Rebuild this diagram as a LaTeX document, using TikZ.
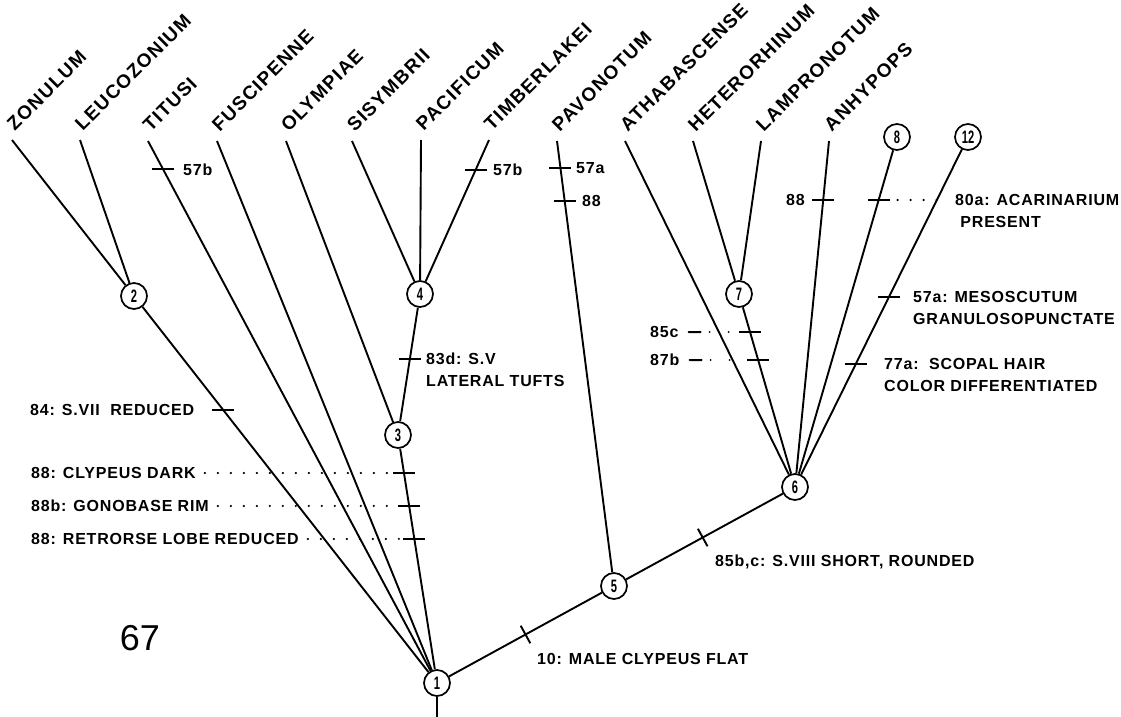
\documentclass[tikz,border=0pt]{standalone}
\usepackage{fontspec}
\newfontfamily\lab{Liberation Sans}[LetterSpace=5]
\newfontfamily\leaff{Liberation Sans}[LetterSpace=7]
\newfontfamily\plainf{Liberation Sans}
\usetikzlibrary{calc}
\tikzset{
  br/.style={line width=1.9pt},
  cn/.style={circle, draw, line width=1.7pt, minimum size=26pt, inner sep=0pt, fill=white,
    font=\plainf\bfseries\fontsize{18}{18}\selectfont},
  tx/.style={font=\lab\bfseries\fontsize{16}{22}\selectfont, inner sep=0pt, align=left},
  leaf/.style={font=\leaff\bfseries\fontsize{19}{19}\selectfont, inner sep=0pt, rotate=45, anchor=south west},
  tk/.style={line width=1.9pt},
  dots/.style={line width=2.4pt, line cap=round, dash pattern=on 0pt off 13pt},
  dashdots/.style={line width=2pt, line cap=round, dash pattern=on 12pt off 9pt on 0pt off 19pt on 0pt off 60pt},
}
\newcommand\htick[1]{\draw[tk] ($(#1)+(-11,0)$) -- ($(#1)+(11,0)$);}
\newcommand\cnum[1]{\scalebox{0.62}[1]{#1}}
\begin{document}
\begin{tikzpicture}[x=1pt,y=-1pt]
\useasboundingbox (0,0) rectangle (1121,717);
% internal nodes
\node[cn] (n1) at (437,683) {\cnum{1}};
\node[cn] (n2) at (134,296) {\cnum{2}};
\node[cn] (n3) at (398,435) {\cnum{3}};
\node[cn] (n4) at (420,294) {\cnum{4}};
\node[cn] (n5) at (614,586) {\cnum{5}};
\node[cn] (n6) at (795,487) {\cnum{6}};
\node[cn] (n7) at (739,294) {\cnum{7}};
\node[cn] (n8) at (897,137) {\cnum{8}};
\node[cn] (n12) at (968,137) {\cnum{12}};
\coordinate (root) at (437,717);
% leaf tops
\coordinate (zo) at (12,140);
\coordinate (le) at (80,140);
\coordinate (ti) at (148,141);
\coordinate (fu) at (217,141);
\coordinate (ol) at (286,141);
\coordinate (si) at (352,141);
\coordinate (pa) at (421,140);
\coordinate (tb) at (489,140);
\coordinate (pv) at (557,141);
\coordinate (at) at (625,141);
\coordinate (he) at (693,141);
\coordinate (la) at (761,141);
\coordinate (an) at (829,141);
% leaf labels
\node[leaf] (lzo) at ($(zo)+(3,-8)$) {ZONULUM};
\node[leaf] (lle) at ($(le)+(3,-8)$) {LEUCOZONIUM};
\node[leaf] (lti) at ($(ti)+(3,-8)$) {TITUSI};
\node[leaf] (lfu) at ($(fu)+(3,-8)$) {FUSCIPENNE};
\node[leaf] (lol) at ($(ol)+(3,-8)$) {OLYMPIAE};
\node[leaf] (lsi) at ($(si)+(3,-8)$) {SISYMBRII};
\node[leaf] (lpa) at ($(pa)+(3,-8)$) {PACIFICUM};
\node[leaf] (ltb) at ($(tb)+(3,-8)$) {TIMBERLAKEI};
\node[leaf] (lpv) at ($(pv)+(3,-8)$) {PAVONOTUM};
\node[leaf] (lat) at ($(at)+(3,-8)$) {ATHABASCENSE};
\node[leaf] (lhe) at ($(he)+(3,-8)$) {HETERORHINUM};
\node[leaf] (lla) at ($(la)+(3,-8)$) {LAMPRONOTUM};
\node[leaf] (lan) at ($(an)+(3,-8)$) {ANHYPOPS};
% branches
\draw[br] (zo) -- (n2);
\draw[br] (le) -- (n2);
\draw[br] (n2) -- (n1);
\draw[br] (ti) -- (n1);
\draw[br] (fu) -- (n1);
\draw[br] (ol) -- (n3);
\draw[br] (si) -- (n4);
\draw[br] (pa) -- (n4);
\draw[br] (tb) -- (n4);
\draw[br] (n4) -- (n3);
\draw[br] (n3) -- (n1);
\draw[br] (pv) -- (n5);
\draw[br] (n1) -- (n5);
\draw[br] (n5) -- (n6);
\draw[br] (at) -- (n6);
\draw[br] (he) -- (n7);
\draw[br] (la) -- (n7);
\draw[br] (n7) -- (n6);
\draw[br] (an) -- (n6);
\draw[br] (n8) -- (n6);
\draw[br] (n12) -- (n6);
\draw[br] (n1) -- (root);
% tick positions
\coordinate (k57b1) at ($(ti)!0.0518!(n1)$);
\coordinate (k57b2) at ($(tb)!0.195!(n4)$);
\coordinate (k57a) at ($(pv)!0.0608!(n5)$);
\coordinate (k88p) at ($(pv)!0.1351!(n5)$);
\coordinate (k83d) at ($(n4)!0.461!(n3)$);
\coordinate (k84) at ($(n2)!0.2946!(n1)$);
\coordinate (k88a) at ($(n3)!0.153!(n1)$);
\coordinate (k88b) at ($(n3)!0.286!(n1)$);
\coordinate (k88c) at ($(n3)!0.419!(n1)$);
\coordinate (k85c) at ($(n7)!0.197!(n6)$);
\coordinate (k87b) at ($(n7)!0.342!(n6)$);
\coordinate (k88an) at ($(an)!0.171!(n6)$);
\coordinate (k80) at ($(n8)!0.18!(n6)$);
\coordinate (k57m) at ($(n12)!0.457!(n6)$);
\coordinate (k77) at ($(n12)!0.6486!(n6)$);
\coordinate (k10) at ($(n1)!0.5!(n5)$);
\coordinate (k85) at ($(n5)!0.49!(n6)$);
\htick{k57b1} \htick{k57b2} \htick{k57a} \htick{k88p} \htick{k83d}
\htick{k84} \htick{k88a} \htick{k88b} \htick{k88c} \htick{k85c} \htick{k87b}
\htick{k88an} \htick{k80} \htick{k57m} \htick{k77}
\draw[tk] ($(k10)!10pt!90:(n5)$) -- ($(k10)!10pt!-90:(n5)$);
\draw[tk] ($(k85)!10pt!90:(n6)$) -- ($(k85)!10pt!-90:(n6)$);
% character labels
\node[tx, anchor=west] (l57b1) at (183,170) {57b};
\node[tx, anchor=west] (l57b2) at (493,170) {57b};
\node[tx, anchor=west] (l57a) at (576,168) {57a};
\node[tx, anchor=west] (l88p) at (582,201) {88};
\node[tx, anchor=north west] (l83d) at (426,353) {83d: S.V\\LATERAL TUFTS};
\node[tx, anchor=west] (l84) at (30,410) {84: S.VII\ \ REDUCED};
\node[tx, anchor=west] (l88a) at (31,473) {88: CLYPEUS DARK};
\node[tx, anchor=west] (l88b) at (31,506) {88b: GONOBASE RIM};
\node[tx, anchor=west] (l88c) at (31,539) {88: RETRORSE LOBE REDUCED};
\node[tx, anchor=west] (l10) at (537,659) {10: MALE CLYPEUS FLAT};
\node[tx, anchor=west] (l85) at (715,562) {85b,c: S.VIII SHORT, ROUNDED};
\node[tx, anchor=west] (l85c) at (650,332) {85c};
\node[tx, anchor=west] (l87b) at (650,360) {87b};
\node[tx, anchor=west] (l88an) at (786,200) {88};
\node[tx, anchor=north west] (l80a) at (955,194) {80a: ACARINARIUM\\\ PRESENT};
\node[tx, anchor=north west] (l57m) at (913,291) {57a: MESOSCUTUM\\GRANULOSOPUNCTATE};
\node[tx, anchor=north west] (l77a) at (884,358) {77a:\ \ SCOPAL HAIR\\COLOR DIFFERENTIATED};
\node[font=\plainf\fontsize{36}{36}\selectfont, inner sep=0pt] (n67) at (140,638) {67};
% dotted leaders
\draw[dots] ($(l88a.east)+(9,0)$) -- ($(k88a)+(-12,0)$);
\draw[dots] ($(l88b.east)+(9,0)$) -- ($(k88b)+(-12,0)$);
\draw[dots] ($(l88c.east)+(9,0)$) -- ($(k88c)+(-12,0)$);
\draw[dots] ($(k80)+(19,0)$) -- ($(l80a.north west)+(-7,6)$);
\draw[dashdots] ($(l85c.east)+(10,0)$) -- ($(k85c)+(-11,0)$);
\draw[dashdots] ($(l87b.east)+(10,0)$) -- ($(k87b)+(-11,0)$);
\end{tikzpicture}
\end{document}
